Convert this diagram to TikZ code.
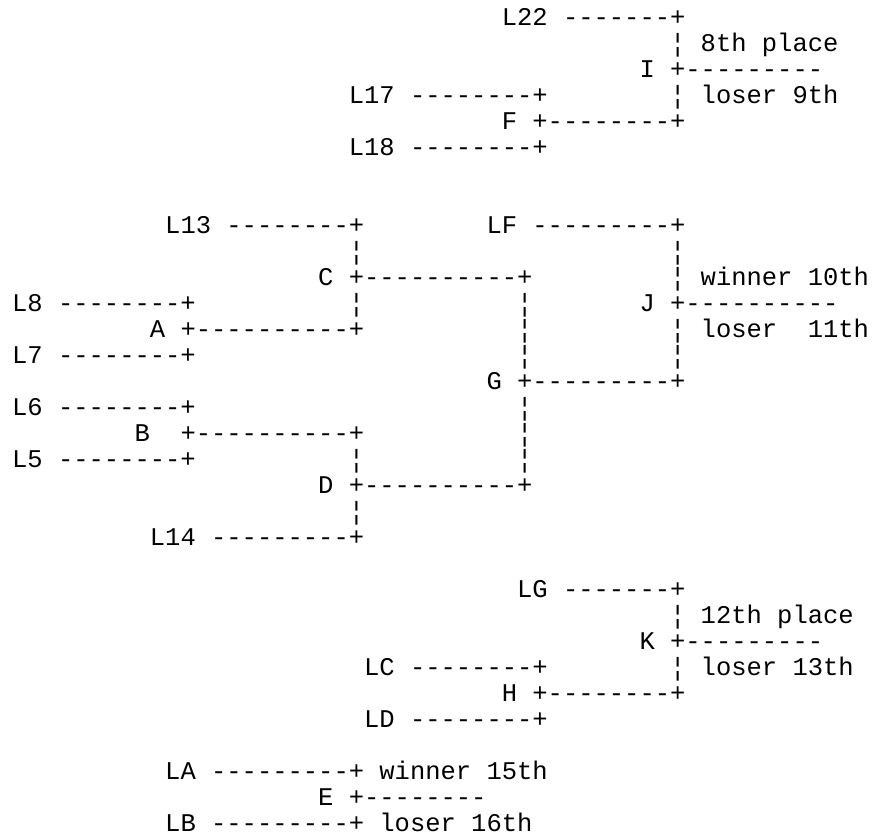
\documentclass[tikz,border=0pt]{standalone}
\usepackage{fontspec}
\setmonofont{Liberation Mono}
\tikzset{txt/.style={anchor=base west, inner sep=0pt, text height=11pt, text depth=2pt, font=\ttfamily\fontsize{25.5pt}{26pt}\selectfont}}
\begin{document}
\begin{tikzpicture}[x=15.3pt,y=-26pt]
\useasboundingbox[fill=white] (-12pt,25pt) rectangle (871pt,-811pt);
\node[txt] (l22) at (32,0) {L22 -------+};
\node[txt] (p8) at (43,1) {¦ 8th place};
\node[txt] (i) at (41,2) {I +---------};
\node[txt] (l17) at (22,3) {L17 --------+};
\node[txt] (p9) at (43,3) {¦ loser 9th};
\node[txt] (f) at (32,4) {F +--------+};
\node[txt] (l18) at (22,5) {L18 --------+};
\node[txt] (l13) at (10,8) {L13 --------+};
\node[txt] (lf) at (31,8) {LF ---------+};
\node[txt] (bc1) at (22,9) {¦};
\node[txt] (bj1) at (43,9) {¦};
\node[txt] (c) at (20,10) {C +----------+};
\node[txt] (p10) at (43,10) {¦ winner 10th};
\node[txt] (l8) at (0,11) {L8 --------+};
\node[txt] (bc2) at (22,11) {¦};
\node[txt] (bg1) at (33,11) {¦};
\node[txt] (j) at (41,11) {J +----------};
\node[txt] (a) at (9,12) {A +----------+};
\node[txt] (bg2) at (33,12) {¦};
\node[txt] (p11) at (43,12) {¦ loser};
\node[txt] (p11n) at (52,12) {11th};
\node[txt] (l7) at (0,13) {L7 --------+};
\node[txt] (bg3) at (33,13) {¦};
\node[txt] (bj2) at (43,13) {¦};
\node[txt] (g) at (31,14) {G +---------+};
\node[txt] (l6) at (0,15) {L6 --------+};
\node[txt] (bg4) at (33,15) {¦};
\node[txt] (b) at (8,16) {B};
\node[txt] (bline) at (11,16) {+----------+};
\node[txt] (bg5) at (33,16) {¦};
\node[txt] (l5) at (0,17) {L5 --------+};
\node[txt] (bd1) at (22,17) {¦};
\node[txt] (bg6) at (33,17) {¦};
\node[txt] (d) at (20,18) {D +----------+};
\node[txt] (bd2) at (22,19) {¦};
\node[txt] (l14) at (9,20) {L14 ---------+};
\node[txt] (lg) at (33,22) {LG -------+};
\node[txt] (p12) at (43,23) {¦ 12th place};
\node[txt] (k) at (41,24) {K +---------};
\node[txt] (lc) at (23,25) {LC --------+};
\node[txt] (p13) at (43,25) {¦ loser 13th};
\node[txt] (h) at (32,26) {H +--------+};
\node[txt] (ld) at (23,27) {LD --------+};
\node[txt] (la) at (10,29) {LA ---------+ winner 15th};
\node[txt] (e) at (20,30) {E +--------};
\node[txt] (lb) at (10,31) {LB ---------+ loser 16th};
\end{tikzpicture}
\end{document}
